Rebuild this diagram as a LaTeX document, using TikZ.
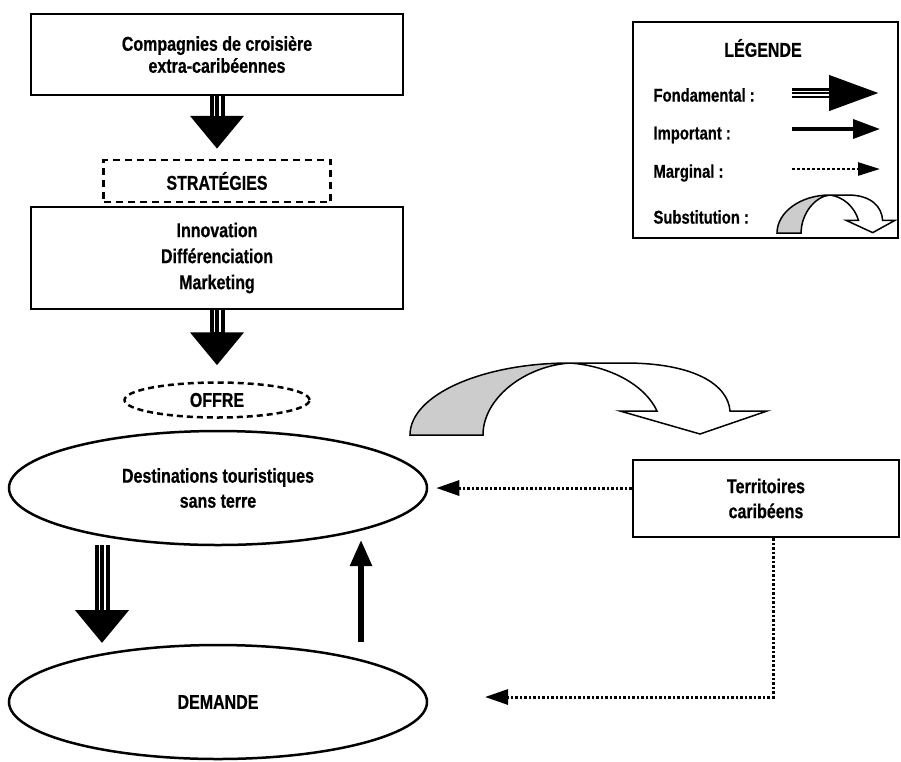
\documentclass[tikz,border=0pt]{standalone}
\usepackage{fontspec}
\setmainfont{Liberation Sans}[FakeStretch=0.8, BoldFeatures={FakeBold=0.6}]
\usetikzlibrary{arrows.meta,shapes.geometric}
\begin{document}
\begin{tikzpicture}[x=1pt,y=-1pt,
  txt/.style={font=\bfseries\fontsize{20}{24}\selectfont, align=center, text=black},
  legtxt/.style={font=\bfseries\fontsize{18.5}{20}\selectfont, anchor=west},
  box/.style={txt, draw, line width=2.5pt, rectangle, inner sep=0pt},
  ell/.style={txt, draw, line width=2.5pt, ellipse, inner sep=0pt},
  dashbox/.style={dash pattern=on 7pt off 5pt},
  fund/.style={line width=15pt, -{Triangle[width=52pt,length=33pt]}, shorten >=#1,
     postaction={draw=white, line width=1.8pt, double=black, double distance=3.4pt, -, shorten >=#1+33pt}},
  fund/.default=0pt,
  fundleg/.style={line width=10pt, -{Triangle[width=33pt,length=51pt]},
     postaction={draw=white, line width=1.3pt, double=black, double distance=2.4pt, -, shorten >=51pt}},
  imp/.style={line width=5.5pt, -{Triangle[width=21pt,length=26pt]}},
  impleg/.style={line width=3.5pt, -{Triangle[width=19pt,length=27pt]}},
  marg/.style={line width=3pt, dash pattern=on 2.5pt off 2pt, -{Triangle[width=15pt,length=23pt]}},
  margleg/.style={line width=2.5pt, dash pattern=on 2.5pt off 2.5pt, -{Triangle[width=13pt,length=22pt]}},
  subst/.pic={
    \filldraw[fill=black!20, draw=black, line width=1.5pt]
      (0,72) .. controls (0,32) and (72,0) .. (160,0)
      .. controls (115,3) and (73,35) .. (73,72) -- cycle;
    \filldraw[fill=white, draw=black, line width=1.5pt]
      (160,0) -- (215,0) .. controls (285,0) and (318,22) .. (320,48)
      -- (357,48) -- (290,71) -- (210,48) -- (247,48)
      .. controls (235,22) and (200,3) .. (160,0) -- cycle;
  }
]
\useasboundingbox (0,0) rectangle (901,761);

% main nodes
\node[box, minimum width=372pt, minimum height=81pt, font=\bfseries\fontsize{20}{22}\selectfont] (cie) at (217,54.5) {Compagnies de croisière\\extra-caribéennes};
\node[box, dashbox, minimum width=227pt, minimum height=42pt] (strat) at (217,181) {STRATÉGIES};
\node[box, minimum width=372pt, minimum height=102pt, font=\bfseries\fontsize{20}{26}\selectfont] (innov) at (217,258) {Innovation\\Différenciation\\Marketing};
\node[ell, dash pattern=on 6pt off 4pt, minimum width=185pt, minimum height=35pt] (offre) at (217,400) {OFFRE};
\node[ell, minimum width=418pt, minimum height=114pt, font=\bfseries\fontsize{20}{25}\selectfont] (dest) at (218,488) {Destinations touristiques\\sans terre};
\node[ell, minimum width=418pt, minimum height=114pt] (dem) at (218,702) {DEMANDE};
\node[box, minimum width=266pt, minimum height=77pt, font=\bfseries\fontsize{20}{25}\selectfont] (terr) at (766,498.5) {Territoires\\caribéens};

% legend
\node[draw, line width=1.5pt, minimum width=265pt, minimum height=216pt, inner sep=0pt] (leg) at (765.5,130) {};
\node[txt] (legt) at (763,48) {LÉGENDE};
\node[legtxt] (lf) at (650,95) {Fondamental :};
\node[legtxt] (li) at (650,135) {Important :};
\node[legtxt] (lm) at (650,173) {Marginal :};
\node[legtxt] (ls) at (650,217) {Substitution :};

% coordinates
\coordinate (f3a) at (102,545);
\coordinate (f3b) at (102,643);
\coordinate (i1) at (361,642);
\coordinate (i2) at (361,540);
\coordinate (m2) at (773,697);
\coordinate (m3) at (485,697);
\coordinate (lfa) at (792,93);  \coordinate (lfb) at (880,93);
\coordinate (lia) at (792,129); \coordinate (lib) at (880,129);
\coordinate (lma) at (792,169); \coordinate (lmb) at (880,169);

% connectors
\draw[fund=10pt] (cie.south) -- (strat.north);
\draw[fund=16pt] (innov.south) -- (offre.north);
\draw[fund] (f3a) -- (f3b);
\draw[imp] (i1) -- (i2);
\draw[marg, shorten >=8pt] (terr.west |- dest.east) -- (dest.east);
\draw[marg] (terr.south -| m2) -- (m2) -- (m3);

% substitution arrows
\pic at (410,363) {subst};
\pic[xscale=0.33, yscale=0.53] at (777,195) {subst};

% legend arrows
\draw[fundleg] (lfa) -- (lfb);
\draw[impleg] (lia) -- (lib);
\draw[margleg] (lma) -- (lmb);
\end{tikzpicture}
\end{document}
